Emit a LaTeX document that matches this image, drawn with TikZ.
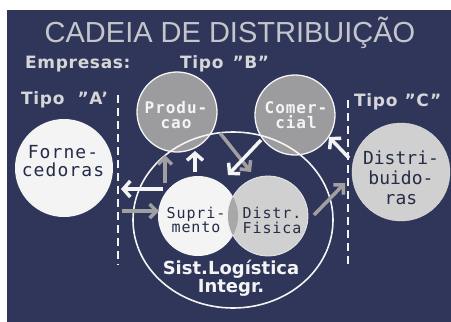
\documentclass[tikz,border=0pt]{standalone}
\usepackage{fontspec}
\setmainfont{DejaVu Sans}
\newfontfamily\titlef{Liberation Sans}
\newfontfamily\lblf[LetterSpace=4]{DejaVu Sans}
\newfontfamily\monof[LetterSpace=6]{DejaVu Sans Mono}
\newfontfamily\monon{DejaVu Sans Mono}
\usetikzlibrary{arrows.meta,shapes.geometric}
\definecolor{navy}{HTML}{2F365A}
\definecolor{ttl}{HTML}{C4C6CC}
\definecolor{lbl}{HTML}{D6D6D8}
\definecolor{midgray}{HTML}{9C9C9E}
\definecolor{ltgray}{HTML}{D0D0D0}
\definecolor{offwhite}{HTML}{F4F4F4}
\definecolor{darktxt}{HTML}{262C48}
\definecolor{agray}{HTML}{A0A0A2}
\definecolor{lensgray}{HTML}{A8A8AA}
\tikzset{
  ball/.style={circle,inner sep=0pt},
  lbltext/.style={text=lbl,font=\lblf\bfseries\fontsize{17}{19}\selectfont,inner sep=0pt},
  warrow/.style={draw=offwhite,line width=3.5pt,-{Straight Barb[length=7pt,width=16pt]}},
  garrow/.style={draw=agray,line width=3.5pt,-{Straight Barb[length=7pt,width=14pt]}},
  divider/.style={draw=offwhite,line width=1.6pt,dash pattern=on 8pt off 5pt},
}
\begin{document}
\begin{tikzpicture}[x=1pt,y=-1pt]
\useasboundingbox (0,0) rectangle (451,322);
\fill[white] (0,0) rectangle (451,322);
\fill[navy] (7,10) rectangle (451,322);

% title and labels
\node[text=ttl,font=\titlef\fontsize{29}{32}\selectfont,anchor=base,inner sep=0pt] (title) at (230,42) {CADEIA DE DISTRIBUIÇÃO};
\node[lbltext,anchor=base west] (emp) at (25,68) {Empresas:};
\node[lbltext,anchor=base west] (tipoB) at (180,68) {Tipo\hspace{9pt}”B”};
\node[lbltext,anchor=base west] (tipoA) at (21,104) {Tipo\hspace{13pt}”A’};
\node[lbltext,anchor=base west] (tipoC) at (354,106) {Tipo\hspace{7pt}”C”};

% dashed dividers
\coordinate (dlA) at (118,95);
\coordinate (dlB) at (118,265);
\coordinate (drA) at (348,100);
\coordinate (drB) at (348,267);
\draw[divider] (dlA) -- (dlB);
\draw[divider] (drA) -- (drB);

% outer circles
\node[ball,fill=offwhite,minimum size=98pt] (forn) at (64,168) {};
\node[ball,fill=ltgray,draw=ltgray!80!white,minimum size=98pt] (dist) at (401,172) {};
\node[ball,fill=midgray,draw=offwhite,line width=1.3pt,minimum size=80pt] (prod) at (177,112) {};
\node[ball,fill=midgray,draw=offwhite,line width=1.3pt,minimum size=80pt] (com) at (295,115) {};

% integrated logistics ellipse
\node[ellipse,draw=offwhite,line width=1.6pt,minimum width=200pt,minimum height=176pt,inner sep=0pt] (sli) at (233,220) {};

% inner circles
\node[ball,fill=offwhite,minimum size=80pt] (sup) at (198,216) {};
\node[ball,fill=ltgray,draw=offwhite!90!gray,line width=0.8pt,minimum size=80pt] (dfis) at (268,216) {};
\begin{scope}
  \clip (sup.center) circle (40);
  \fill[lensgray] (dfis.center) circle (40);
\end{scope}

% texts in circles
\node[text=darktxt,font=\monof\fontsize{18}{18}\selectfont,align=center,inner sep=0pt] (fornT) at (63,161) {Forne-\\cedoras};
\node[text=darktxt,font=\monon\fontsize{18}{20}\selectfont,align=center,inner sep=0pt] (distT) at (401,178) {Distri-\\buido-\\ras};
\node[text=offwhite,font=\monof\bfseries\fontsize{16}{15.5}\selectfont,align=center,inner sep=0pt] (prodT) at (176,115) {Produ-\\cao};
\node[text=offwhite,font=\monof\bfseries\fontsize{16}{15.5}\selectfont,align=center,inner sep=0pt] (comT) at (296,115) {Comer-\\cial};
\node[text=darktxt,font=\monof\fontsize{15}{14.5}\selectfont,align=center,inner sep=0pt] (supT) at (196,220) {Supri-\\mento};
\node[text=darktxt,font=\monof\fontsize{15}{15}\selectfont,align=center,inner sep=0pt] (dfisT) at (272,220) {Distr.\\Fisica};
\node[text=offwhite,font=\bfseries\fontsize{18}{16}\selectfont,align=center,inner sep=0pt] (sliT) at (231,278) {Sist.Logística\\Integr.};

% arrow end points
\coordinate (a1s) at (163,189); \coordinate (a1e) at (121,189);
\coordinate (a2s) at (122,211); \coordinate (a2e) at (159,211);
\coordinate (a3s) at (165,183); \coordinate (a3e) at (165,155);
\coordinate (a4s) at (195,172); \coordinate (a4e) at (195,151);
\coordinate (a5s) at (220,133); \coordinate (a5e) at (251,172);
\coordinate (a6s) at (261,140); \coordinate (a6e) at (228,175);
\coordinate (a7s) at (349,158); \coordinate (a7e) at (329,137);
\coordinate (a8s) at (314,215); \coordinate (a8e) at (345,183);

\draw[warrow] (a1s) -- (a1e);
\draw[garrow] (a2s) -- (a2e);
\draw[garrow] (a3s) -- (a3e);
\draw[warrow] (a4s) -- (a4e);
\draw[garrow] (a5s) -- (a5e);
\draw[warrow] (a6s) -- (a6e);
\draw[warrow] (a7s) -- (a7e);
\draw[garrow] (a8s) -- (a8e);
\end{tikzpicture}
\end{document}
